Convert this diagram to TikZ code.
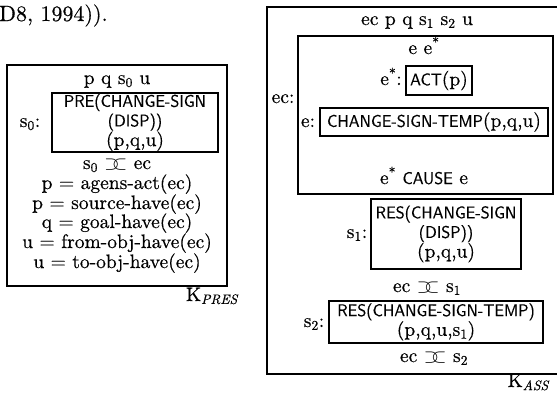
\RequirePackage{fix-cm}
\documentclass[tikz,border=0pt]{standalone}
\usepackage{fontspec}
\setmainfont{lmroman10-regular.otf}[ItalicFont=lmroman10-italic.otf, FakeBold=0.45]
\newfontfamily\sansfam{lmsans10-regular.otf}[FakeBold=0.35, FakeStretch=0.95]
\newcommand\rmsz{\fontsize{19.5}{19.6}\selectfont}
\newcommand\sfsz{\sansfam\fontsize{17}{19.6}\selectfont}
\newcommand\abuts{\ensuremath{\mathrel{\supset\mkern-7mu\subset}}}
\newcommand\sub[1]{\textsubscript{#1}}
\newcommand\st{\textsuperscript{*}}
\tikzset{
  frame/.style={draw, line width=1.1pt},
  box/.style={draw, line width=1.1pt, inner sep=0pt, align=center, font=\rmsz},
  txt/.style={inner sep=0pt, anchor=base, font=\rmsz},
  lbl/.style={inner sep=0pt, anchor=base, font=\rmsz},
}
\begin{document}
\begin{tikzpicture}[x=1pt,y=-1pt]
\useasboundingbox (0,0) rectangle (557,394);
% citation fragment
\node[inner sep=0pt, anchor=base west, font=\fontsize{22}{24}\selectfont] (cite) at (-1,21) {D8, 1994)).};

% ---------------- K_PRES ----------------
\node[frame, minimum width=220, minimum height=221, inner sep=0pt] (kpres) at (117,175.5) {};
\node[txt] (pqsu) at (117,84) {p q s\sub{0} u};
\node[lbl] (s0l) at (30,127) {s\sub{0}:};
\node[box, minimum width=166, minimum height=59] (pre) at (135,122.5)
  {{\sfsz PRE(CHANGE-SIGN}\\{\sfsz (DISP))}\\(p,q,u)};
\node[txt] (ab0) at (117,169) {s\sub{0} \abuts{} ec};
\node[txt] (eq1) at (117,189) {p = agens-act(ec)};
\node[txt] (eq2) at (117,209) {p = source-have(ec)};
\node[txt] (eq3) at (117,228) {q = goal-have(ec)};
\node[txt] (eq4) at (117,248) {u = from-obj-have(ec)};
\node[txt] (eq5) at (117,268) {u = to-obj-have(ec)};
\node[inner sep=0pt, anchor=base east, font=\rmsz] (kpl) at (238,301) {K\sub{\itshape PRES}};

% ---------------- K_ASS ----------------
\coordinate (tr) at (557,7);
\coordinate (tl) at (267,7);
\coordinate (bl) at (267,374);
\coordinate (br) at (557,374);
\draw[frame] (tr) -- (tl) -- (bl) -- (br);
\node[txt] (univ) at (417,25) {ec p q s\sub{1} s\sub{2} u};
\node[lbl] (ecl) at (283,103) {ec:};
\node[frame, minimum width=255, minimum height=158, inner sep=0pt] (ecbox) at (425.5,115) {};
\node[txt] (ee) at (424,54) {e e\st};
\node[lbl] (esl) at (391,85) {e\st:};
\node[box, minimum width=66, minimum height=29] (act) at (439,80.5) {{\sfsz ACT}(p)};
\node[lbl] (el) at (308,127) {e:};
\node[box, minimum width=228, minimum height=28] (chg) at (434,122) {{\sfsz CHANGE-SIGN-TEMP}(p,q,u)};
\node[txt] (cause) at (424,184) {e\st{} {\sfsz CAUSE} e};
\node[lbl] (s1l) at (357,238) {s\sub{1}:};
\node[box, minimum width=150, minimum height=70] (res1) at (446,234)
  {{\sfsz RES(CHANGE-SIGN}\\{\sfsz (DISP))}\\(p,q,u)};
\node[txt] (ab1) at (427,292) {ec \abuts{} s\sub{1}};
\node[lbl] (s2l) at (314,327) {s\sub{2}:};
\node[box, minimum width=214, minimum height=42] (res2) at (436,322)
  {{\sfsz RES(CHANGE-SIGN-TEMP)}\\(p,q,u,s\sub{1})};
\node[txt] (ab2) at (434,362) {ec \abuts{} s\sub{2}};
\node[inner sep=0pt, anchor=base east, font=\rmsz] (kal) at (549,387) {K\sub{\itshape ASS}};
\end{tikzpicture}
\end{document}
